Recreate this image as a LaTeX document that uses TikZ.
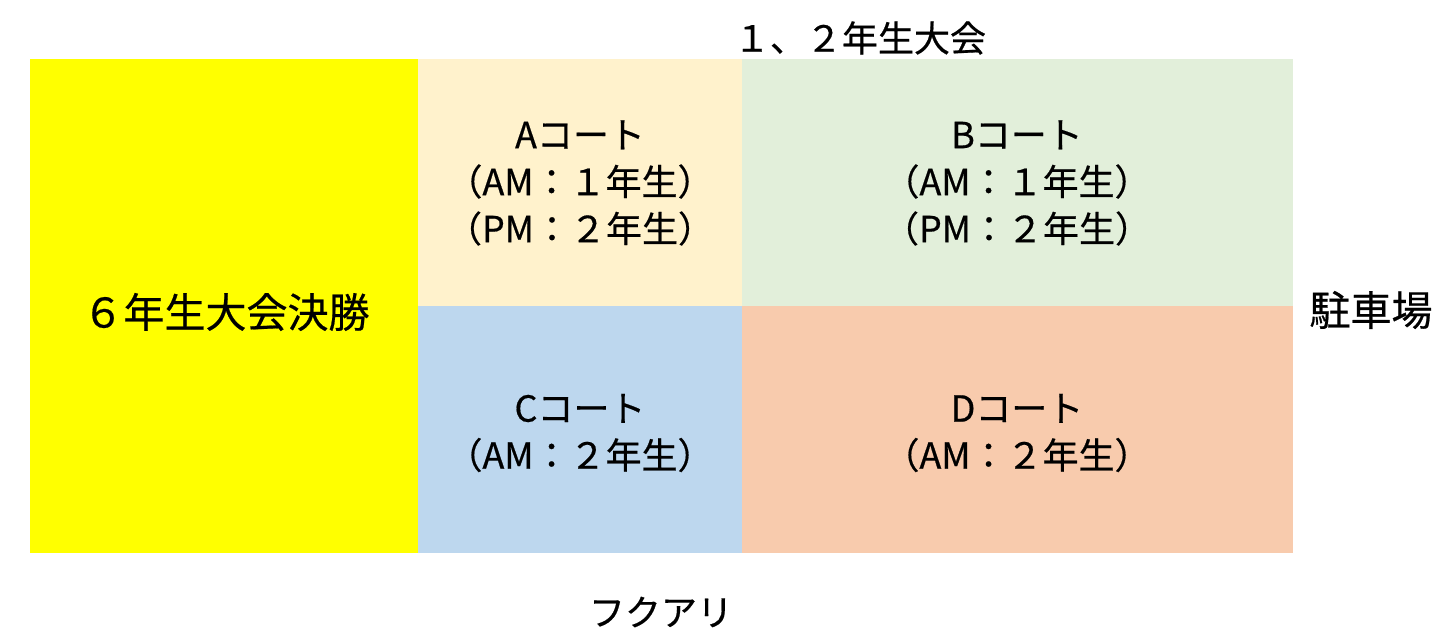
\documentclass[tikz,border=0pt]{standalone}
\usepackage{fontspec}
\setmainfont{Noto Sans CJK JP}[FakeBold=0.5]
\definecolor{cyel}{HTML}{FFFF00}
\definecolor{ca}{HTML}{FFF2CC}
\definecolor{cb}{HTML}{E2EFDA}
\definecolor{cc}{HTML}{BDD7EE}
\definecolor{cd}{HTML}{F8CBAD}
\begin{document}
\begin{tikzpicture}[x=0.5pt,y=-0.5pt,
  lbl/.style={font=\fontsize{18pt}{23.5pt}\selectfont,align=center,inner sep=0pt},
  big/.style={font=\fontsize{20.5pt}{24pt}\selectfont,inner sep=0pt}]
\useasboundingbox (0,0) rectangle (1440,640);
\fill[cyel] (30,59) rectangle (418,553);
\fill[ca] (418,59) rectangle (742,306);
\fill[cb] (742,59) rectangle (1293,306);
\fill[cc] (418,306) rectangle (742,553);
\fill[cd] (742,306) rectangle (1293,553);
\node[big] (six) at (226,312) {６年生大会決勝};
\node[lbl] (a) at (580,183) {Aコート\\（AM：１年生）\\（PM：２年生）};
\node[lbl] (b) at (1017,183) {Bコート\\（AM：１年生）\\（PM：２年生）};
\node[lbl] (c) at (580,433) {Cコート\\（AM：２年生）};
\node[lbl] (d) at (1017,433) {Dコート\\（AM：２年生）};
\node[lbl] (top) at (860,38) {１、２年生大会};
\node[big] (park) at (1371,310) {駐車場};
\node[lbl] (fukuari) at (661,612) {フクアリ};
\end{tikzpicture}
\end{document}
